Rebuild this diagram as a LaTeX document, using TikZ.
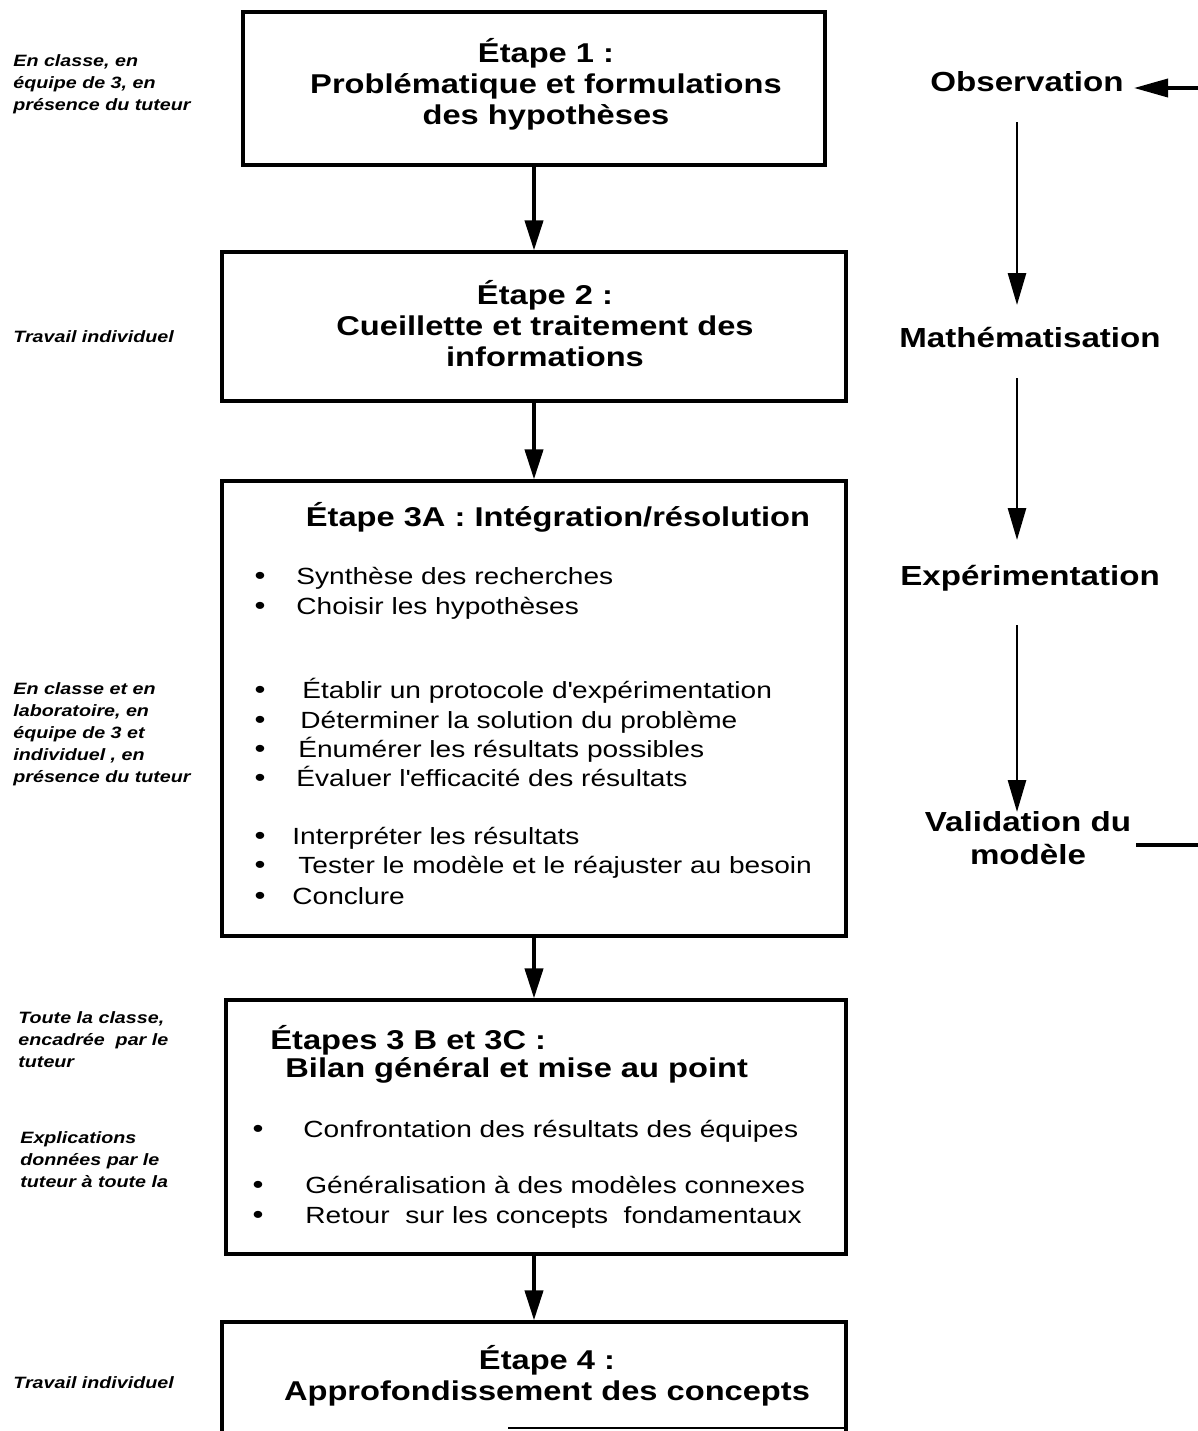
\documentclass[tikz,border=0pt]{standalone}
\usepackage{fontspec}
\setmainfont{Liberation Sans}[FakeStretch=1.2]
\usetikzlibrary{arrows.meta}

% type sizes
\newcommand{\headsize}{\fontsize{13.6}{15.5}\selectfont\bfseries}
\newcommand{\itemsize}{\fontsize{11.7}{14.5}\selectfont}
\newcommand{\sidesize}{\fontsize{13.8}{16.5}\selectfont\bfseries}
\newcommand{\notesize}{\fontsize{8.2}{11}\selectfont\bfseries\itshape}
\newcommand{\apos}{\textquotesingle}

\tikzset{
  stagebox/.style={draw, line width=1.6pt, inner sep=0pt},
  flow/.style={line width=2pt, -{Triangle[length=15pt,width=9pt]}},
  cycle/.style={line width=1.4pt, -{Triangle[length=16pt,width=9pt]}},
  heading/.style={font=\headsize, align=center, inner sep=0pt},
  item/.style={font=\itemsize, anchor=base west, inner sep=0pt},
  dot/.style={font=\fontsize{13}{14.5}\selectfont, anchor=base, inner sep=0pt},
  phase/.style={font=\sidesize, align=center, inner sep=0pt},
  note/.style={font=\notesize, align=left, anchor=west, inner sep=0pt},
}

\begin{document}
\begin{tikzpicture}[x=0.5pt, y=-0.5pt]
\useasboundingbox (0,0) rectangle (1198,1431);
\clip (0,0) rectangle (1198,1431);

% ---- stage boxes ----
\node[stagebox, minimum width=291pt, minimum height=76.5pt] (b1) at (534,88.5) {};
\node[stagebox, minimum width=312pt, minimum height=74.5pt] (b2) at (534,326.5) {};
\node[stagebox, minimum width=312pt, minimum height=227.5pt] (b3) at (534,708.5) {};
\node[stagebox, minimum width=310pt, minimum height=127pt] (b4) at (536,1127) {};
\node[stagebox, minimum width=312pt, minimum height=70pt] (b5) at (534,1392) {};
\coordinate (e1) at (508,1428);
\coordinate (e2) at (800,1428);
\coordinate (e3) at (846,1428);
\draw[line width=1.2pt] (e1) -- (e2);
\draw[line width=0.6pt] (e2) -- (e3);

% ---- connectors between stages ----
\draw[flow] (b1.south) -- (b2.north);
\draw[flow] (b2.south) -- (b3.north);
\draw[flow] (b3.south) -- (b3.south |- b4.north);
\draw[flow] (b4.south -| b5.north) -- (b5.north);

% ---- stage headings ----
\node[heading] (h1) at (546,84) {Étape 1 :\\Problématique et formulations\\des hypothèses};
\node[heading] (h2) at (545,324) {Étape 2 :\\Cueillette et traitement des\\informations};
\node[heading] (h3) at (558,517) {Étape 3A : Intégration/résolution};
\node[heading, align=left, anchor=west, font=\fontsize{13.6}{14}\selectfont\bfseries] (h4) at (270,1054)
  {Étapes 3 B et 3C :\\\hspace{7.5pt}Bilan général et mise au point};
\node[heading] (h5) at (547,1376) {Étape 4 :\\Approfondissement des concepts};

% ---- stage 3A items ----
\foreach \n/\x/\y/\t in {
  i1/296/584/{Synthèse des recherches},
  i2/296/614/{Choisir les hypothèses},
  i3/302/698/{Établir un protocole d\apos expérimentation},
  i4/300/728/{Déterminer la solution du problème},
  i5/298/757/{Énumérer les résultats possibles},
  i6/296/786/{Évaluer l\apos efficacité des résultats},
  i7/292/844/{Interpréter les résultats},
  i8/298/873/{Tester le modèle et le réajuster au besoin},
  i9/292/904/{Conclure}}{
  \node[dot] (d\n) at (260,\y) {•};
  \node[item] (\n) at (\x,\y) {\t};
}

% ---- stage 3B/3C items ----
\foreach \n/\x/\y/\t in {
  k1/303/1137/{Confrontation des résultats des équipes},
  k2/305/1193/{Généralisation à des modèles connexes},
  k3/305/1223/{Retour\ \ sur les concepts\ \ fondamentaux}}{
  \node[dot] (d\n) at (258,\y) {•};
  \node[item] (\n) at (\x,\y) {\t};
}

% ---- working arrangements ----
\node[note] (n1) at (13,84) {En classe, en\\équipe de 3, en\\présence du tuteur};
\node[note] (n2) at (13,337) {Travail individuel};
\node[note] (n3) at (13,734) {En classe et en\\laboratoire, en\\équipe de 3 et\\individuel , en\\présence du tuteur};
\node[note] (n4) at (18,1040) {Toute la classe,\\encadrée\ \ par le\\tuteur};
\node[note] (n5) at (20,1160) {Explications\\données par le\\tuteur à toute la};
\node[note] (n6) at (13,1383) {Travail individuel};

% ---- modelling cycle ----
\node[phase] (p1) at (1027,82) {Observation};
\node[phase] (p2) at (1030,338) {Mathématisation};
\node[phase] (p3) at (1030,578) {Expérimentation};
\node[phase] (p4) at (1028,838) {Validation du\\modèle};

\coordinate (c1a) at (1017,122);
\coordinate (c1b) at (1017,305);
\coordinate (c2a) at (1017,378);
\coordinate (c2b) at (1017,540);
\coordinate (c3a) at (1017,625);
\coordinate (c3b) at (1017,812);
\draw[cycle] (c1a) -- (c1b);
\draw[cycle] (c2a) -- (c2b);
\draw[cycle] (c3a) -- (c3b);

\coordinate (r1) at (1198,88);
\coordinate (r2) at (1134,88);
\draw[line width=1.8pt, -{Triangle[length=17pt,width=9pt]}] (r1) -- (r2);
\coordinate (v1) at (1136,845);
\coordinate (v2) at (1198,845);
\draw[line width=1.6pt] (v1) -- (v2);
\end{tikzpicture}
\end{document}
